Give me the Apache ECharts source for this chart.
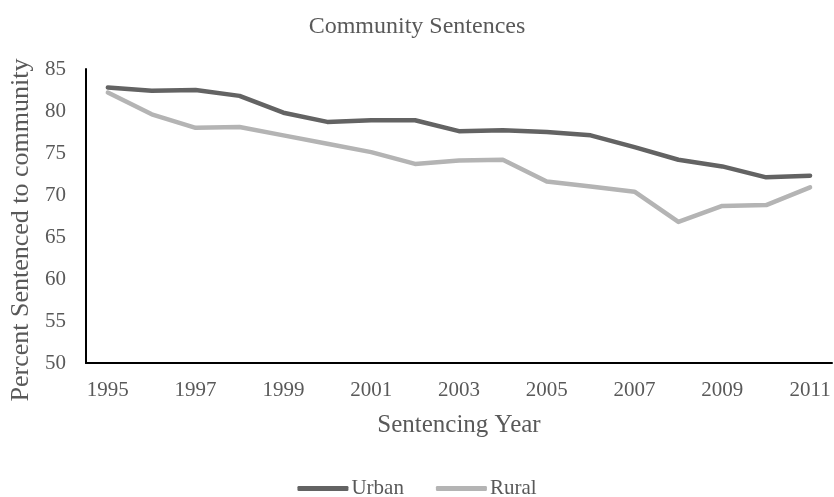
<!DOCTYPE html>
<html>
<head>
<meta charset="utf-8">
<script src="https://cdn.jsdelivr.net/npm/echarts@6/dist/echarts.min.js"></script>
<style>
  html, body { margin: 0; padding: 0; background: #fff; }
  #chart { width: 834px; height: 497px; }
</style>
</head>
<body>
<div id="chart"></div>
<script>
// Sentencing years on the category axis
const years = ['1995','1996','1997','1998','1999','2000','2001','2002','2003',
               '2004','2005','2006','2007','2008','2009','2010','2011'];

// Percent of offenders given community sentences
const urban = [82.8, 82.4, 82.5, 81.8, 79.8, 78.7, 78.9, 78.9, 77.6,
               77.7, 77.5, 77.1, 75.7, 74.2, 73.4, 72.1, 72.3];
const rural = [82.2, 79.6, 78.0, 78.1, 77.1, 76.1, 75.1, 73.7, 74.1,
               74.2, 71.6, 71.0, 70.4, 66.8, 68.7, 68.8, 70.9];

const font = '"Liberation Serif", "Times New Roman", serif';
const textGray = '#595959';

const chart = echarts.init(document.getElementById('chart'));
chart.setOption({
  animation: false,
  backgroundColor: '#ffffff',
  textStyle: { fontFamily: font },
  title: {
    text: 'Community Sentences',
    left: 'center',
    top: 10,
    textStyle: { fontFamily: font, fontSize: 24, fontWeight: 'normal', color: textGray }
  },
  legend: {
    top: 473,
    left: 'center',
    itemWidth: 51,
    itemHeight: 5,
    itemGap: 32,
    icon: 'roundRect',
    textStyle: { fontFamily: font, fontSize: 21, color: textGray, padding: [0, 0, 0, -2] },
    data: ['Urban', 'Rural']
  },
  grid: { left: 83, right: 2, top: 69, bottom: 134 },
  xAxis: {
    type: 'category',
    data: years,
    boundaryGap: true,
    name: 'Sentencing Year',
    nameLocation: 'middle',
    nameGap: 50,
    nameTextStyle: { fontFamily: font, fontSize: 25, color: textGray },
    axisLine: { lineStyle: { color: '#000', width: 2 } },
    axisTick: { show: false },
    axisLabel: { interval: 1, fontFamily: font, fontSize: 21, color: textGray, margin: 17 },
    splitLine: { show: false }
  },
  yAxis: {
    type: 'value',
    min: 50,
    max: 85,
    interval: 5,
    name: 'Percent Sentenced to community',
    nameLocation: 'middle',
    nameGap: 48,
    nameTextStyle: { fontFamily: font, fontSize: 26, color: textGray, padding: [0, 28, 0, 0] },
    axisLine: { show: true, lineStyle: { color: '#000', width: 2 } },
    axisTick: { show: false },
    axisLabel: { fontFamily: font, fontSize: 21, color: textGray, margin: 20 },
    splitLine: { show: false }
  },
  series: [
    {
      name: 'Urban',
      type: 'line',
      data: urban,
      symbol: 'none',
      color: '#636363',
      lineStyle: { width: 4.5, color: '#636363', cap: 'round', join: 'round' }
    },
    {
      name: 'Rural',
      type: 'line',
      data: rural,
      symbol: 'none',
      color: '#b4b4b4',
      lineStyle: { width: 4.5, color: '#b4b4b4', cap: 'round', join: 'round' }
    }
  ]
});
</script>
</body>
</html>
